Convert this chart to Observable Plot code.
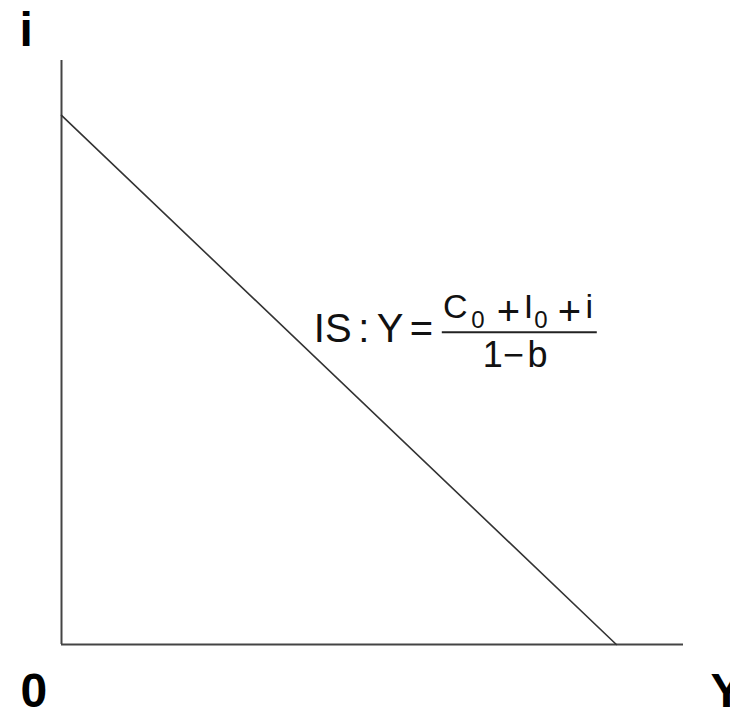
<!DOCTYPE html>
<html>
<head>
<meta charset="utf-8">
<script src="https://cdn.jsdelivr.net/npm/d3@7"></script>
<script src="https://cdn.jsdelivr.net/npm/@observablehq/plot@0.6"></script>
<style>
  html, body { margin: 0; padding: 0; background: #fff; }
  #chart { width: 730px; height: 709px; }
</style>
</head>
<body>
<div id="chart"></div>
<script>
// IS curve: output Y (horizontal) and interest rate i (vertical), arbitrary units
const outputY = [0, 8.92];
const interestI = [9.06, 0];
// Axis labels
const verticalLabel = ["i"];
const originLabel = ["0"];
const horizontalLabel = ["Y"];
// Equation label anchor (data units) — where the fraction bar is centred
const eqX = [7.36];
const eqY = [5.34];

const isData = outputY.map((v, k) => ({Y: v, i: interestI[k]}));

const FONT = "'Liberation Sans', Arial, Helvetica, sans-serif";

function equationMark(index, {x, y}) {
  const cx = x(eqX[0]);
  const cy = y(eqY[0]);
  const g = d3.create("svg:g")
    .attr("font-family", FONT)
    .attr("text-anchor", "start")
    .attr("fill", "#111");
  const put = (str, dx, dy, size) =>
    g.append("text")
      .attr("x", cx + dx)
      .attr("y", cy + dy)
      .attr("font-size", size)
      .attr("text-anchor", "start")
      .text(str);
  // Left-hand side
  put("IS", -205, 10, 40);
  put(":", -160.5, 10, 40);
  put("Y", -142, 10, 40);
  put("=", -109, 10, 40);
  // Numerator
  put("C", -75.7, -14, 34);
  put("0", -47.5, -4, 24);
  put("+", -22, -7.5, 40);
  put("I", 5, -14, 34);
  put("0", 15.5, -4, 24);
  put("+", 39, -7.5, 40);
  put("i", 66.7, -14, 34);
  // Fraction bar
  g.append("line")
    .attr("x1", cx - 77).attr("x2", cx + 78)
    .attr("y1", cy).attr("y2", cy)
    .attr("stroke", "#222").attr("stroke-width", 2);
  // Denominator
  put("1", -36, 34.5, 36);
  put("\u2212", -15.7, 34.5, 36);
  put("b", 8.6, 34.5, 36);
  return g.node();
}

const chart = Plot.plot({
  width: 730,
  height: 709,
  marginLeft: 61,
  marginRight: 47,
  marginTop: 60,
  marginBottom: 65,
  x: {domain: [0, 10], axis: null},
  y: {domain: [0, 10], axis: null},
  style: {background: "#fff", fontFamily: FONT, overflow: "visible"},
  marks: [
    Plot.ruleX([0], {stroke: "#444", strokeWidth: 2}),
    Plot.ruleY([0], {stroke: "#444", strokeWidth: 2}),
    Plot.line(isData, {x: "Y", y: "i", stroke: "#333", strokeWidth: 1.6}),
    Plot.text(verticalLabel, {
      text: d => d, frameAnchor: "top-left", textAnchor: "start", lineAnchor: "bottom",
      dx: -42, dy: -15, fontSize: 48, fontWeight: "bold", fill: "#000"
    }),
    Plot.text(originLabel, {
      text: d => d, frameAnchor: "bottom-left", textAnchor: "start", lineAnchor: "bottom",
      dx: -41, dy: 62, fontSize: 48, fontWeight: "bold", fill: "#000"
    }),
    Plot.text(horizontalLabel, {
      text: d => d, frameAnchor: "bottom-right", textAnchor: "start", lineAnchor: "bottom",
      dx: 27, dy: 62, fontSize: 48, fontWeight: "bold", fill: "#000"
    }),
    equationMark
  ]
});
document.getElementById("chart").appendChild(chart);
</script>
</body>
</html>
